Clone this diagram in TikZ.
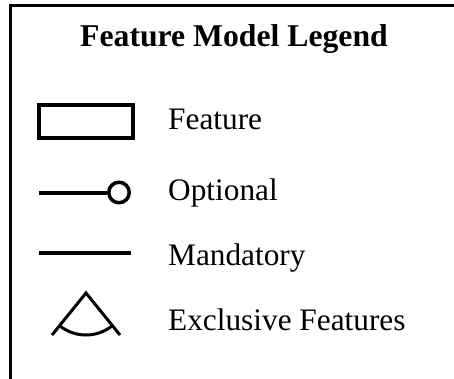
\documentclass[tikz,border=0pt]{standalone}
\usepackage{fontspec}
\setmainfont{Liberation Serif}
\begin{document}
\begin{tikzpicture}[x=1pt,y=1pt,
  frameline/.style={line width=3pt},
  featbox/.style={draw, rectangle, line width=4pt, minimum width=94pt, minimum height=33pt, inner sep=0pt},
  optdot/.style={draw, circle, line width=3.5pt, minimum size=20.5pt, inner sep=0pt},
  relline/.style={line width=4pt},
  exline/.style={line width=3pt},
  label/.style={anchor=base west, inner sep=0pt, font=\fontsize{31.3}{36}\selectfont},
  heading/.style={anchor=base, inner sep=0pt, font=\fontsize{31.7}{38}\selectfont\bfseries}]
\useasboundingbox (0,0) rectangle (454,378);
\clip (0,0) rectangle (454,378);

% legend frame (runs off the right and bottom edges)
\coordinate (frameTL) at (10.5,372);
\coordinate (frameTR) at (460,372);
\coordinate (frameBL) at (10.5,-10);
\draw[frameline] (frameBL) -- (frameTL) -- (frameTR);

% heading
\node[heading] (title) at (234,331.3) {Feature Model Legend};

% feature box
\node[featbox] (feat) at (86,256.5) {};
\node[label] (featlbl) at (168,248) {Feature};

% optional relation
\coordinate (optstart) at (39,185.5);
\node[optdot] (optend) at (119,185.5) {};
\draw[relline] (optstart) -- (optend.west);
\node[label] (optlbl) at (168,178) {Optional};

% mandatory relation
\coordinate (manstart) at (39,125);
\coordinate (manend) at (131,125);
\draw[relline] (manstart) -- (manend);
\node[label] (manlbl) at (168,113) {Mandatory};

% exclusive (alternative) group
\coordinate (apex) at (86,85);
\coordinate (legL) at (52,43);
\coordinate (legR) at (120,43);
\draw[exline] (legL) -- (apex) -- (legR);
\draw[exline] (apex) ++(231:42) arc[start angle=231, end angle=309, radius=42];
\node[label] (exlbl) at (168,48) {Exclusive Features};
\end{tikzpicture}
\end{document}
